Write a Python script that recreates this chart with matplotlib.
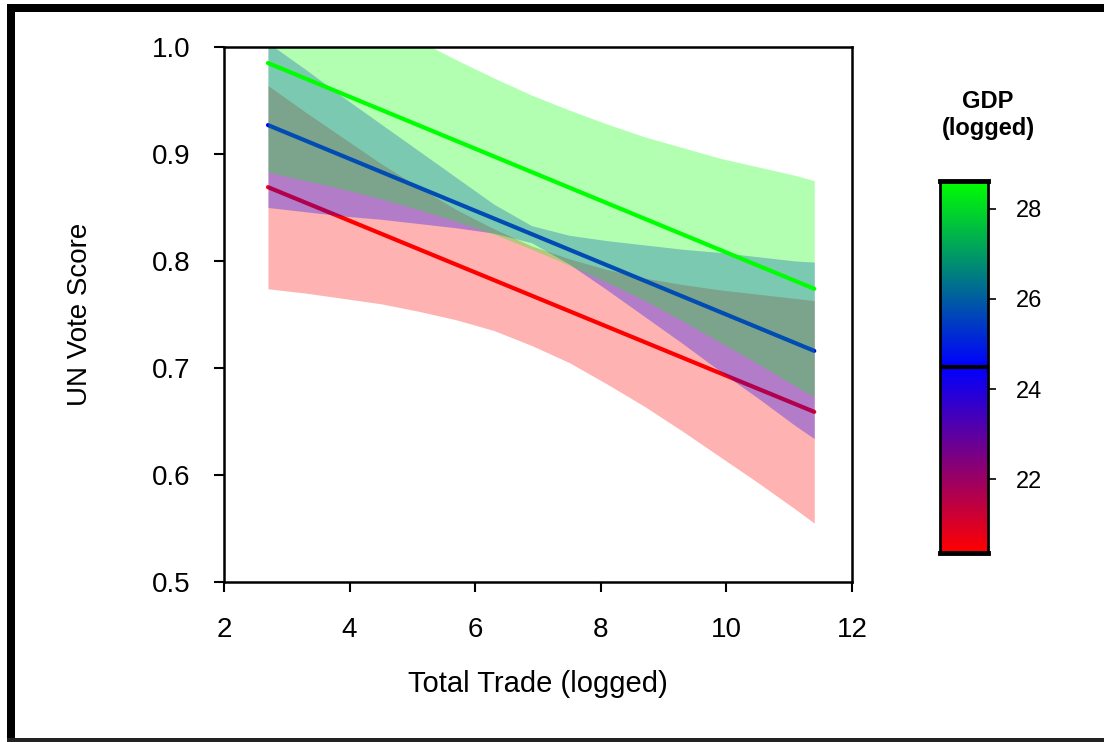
import numpy as np
import matplotlib
matplotlib.use("Agg")
import matplotlib.pyplot as plt
from matplotlib.colors import LinearSegmentedColormap
from matplotlib.patches import Rectangle

plt.rcParams['font.family'] = ['Liberation Sans', 'DejaVu Sans']

# predicted UN vote score vs total trade, at three GDP levels
trade_ends = [2.7, 11.4]
low_gdp_line = [0.869, 0.659]
mid_gdp_line = [0.927, 0.716]
high_gdp_line = [0.985, 0.774]

# confidence bands
trade_grid = [2.7, 3.3, 3.9, 4.5, 5.1, 5.7, 6.3, 6.9, 7.5, 8.1, 8.7, 9.3, 9.9, 10.5, 11.1, 11.4]
low_gdp_upper = [0.964, 0.939, 0.915, 0.891, 0.869, 0.848, 0.830, 0.814,
                 0.802, 0.792, 0.784, 0.778, 0.773, 0.769, 0.765, 0.763]
low_gdp_lower = [0.774, 0.770, 0.765, 0.760, 0.753, 0.745, 0.735, 0.721,
                 0.705, 0.685, 0.664, 0.641, 0.617, 0.593, 0.568, 0.555]
mid_gdp_upper = [1.004, 0.979, 0.953, 0.928, 0.903, 0.878, 0.853, 0.833,
                 0.824, 0.819, 0.815, 0.811, 0.808, 0.804, 0.800, 0.799]
mid_gdp_lower = [0.850, 0.846, 0.842, 0.839, 0.835, 0.831, 0.826, 0.817,
                 0.797, 0.773, 0.748, 0.723, 0.697, 0.672, 0.646, 0.634]
high_gdp_upper = [1.087, 1.066, 1.045, 1.025, 1.006, 0.988, 0.971, 0.955,
                  0.941, 0.928, 0.916, 0.906, 0.896, 0.888, 0.880, 0.875]
high_gdp_lower = [0.883, 0.875, 0.867, 0.858, 0.848, 0.837, 0.825, 0.811,
                  0.796, 0.780, 0.763, 0.744, 0.724, 0.704, 0.683, 0.673]

# colour scale for GDP (logged)
gdp_min, gdp_mid, gdp_max = 20.36, 24.49, 28.62
gdp_ticks = [22, 24, 26, 28]

fig = plt.figure(figsize=(11.04, 7.42), dpi=100)
ax = fig.add_axes([0.2029, 0.2156, 0.5688, 0.7211])

series = [
    (low_gdp_lower, low_gdp_upper, low_gdp_line, '#ff0000'),
    (mid_gdp_lower, mid_gdp_upper, mid_gdp_line, '#0000ff'),
    (high_gdp_lower, high_gdp_upper, high_gdp_line, '#00ff00'),
]
z = 1
for lo, up, line, col in series:
    ax.fill_between(trade_grid, lo, up, color=col, alpha=0.3, linewidth=0, zorder=z)
    ax.plot(trade_ends, line, color=col, lw=3, solid_capstyle='round', zorder=z + 1)
    z += 2

ax.set_xlim(2, 12)
ax.set_ylim(0.5, 1.0)
ax.set_xticks([2, 4, 6, 8, 10, 12])
ax.set_yticks([0.5, 0.6, 0.7, 0.8, 0.9, 1.0])
ax.set_yticklabels(['0.5', '0.6', '0.7', '0.8', '0.9', '1.0'])
ax.tick_params(direction='out', length=7, width=1.5, labelsize=20)
ax.tick_params(axis='x', pad=18)
ax.tick_params(axis='y', pad=17)
for s in ax.spines.values():
    s.set_linewidth(1.8)
    s.set_zorder(10)
ax.set_xlabel('Total Trade (logged)', fontsize=21)
ax.set_ylabel('UN Vote Score', fontsize=20)
ax.xaxis.set_label_coords(0.5, -0.164)
ax.yaxis.set_label_coords(-0.209, 0.5)

# colour bar
cax = fig.add_axes([0.8514, 0.2547, 0.0435, 0.5014])
f = (gdp_mid - gdp_min) / (gdp_max - gdp_min)
cmap = LinearSegmentedColormap.from_list('gdp', [(0, '#ff0000'), (f, '#0000ff'), (1, '#00ff00')])
grad = np.linspace(gdp_min, gdp_max, 400).reshape(-1, 1)
cax.imshow(grad, aspect='auto', cmap=cmap, origin='lower',
           extent=[0, 1, gdp_min, gdp_max])
cax.axhline(gdp_mid, color='black', lw=3)
cax.set_xlim(0, 1)
cax.set_ylim(gdp_min, gdp_max)
cax.set_xticks([])
cax.yaxis.tick_right()
cax.set_yticks(gdp_ticks)
cax.tick_params(axis='y', direction='out', length=6, width=1.2, labelsize=17, pad=14)
for name, s in cax.spines.items():
    s.set_linewidth(3.5 if name in ('top', 'bottom') else 2)
fig.text(0.895, 0.845, 'GDP\n(logged)', ha='center', va='center', fontsize=17,
         fontweight='bold', linespacing=1.25)

# outer frame
fig.add_artist(Rectangle((0.0063, 0.984), 0.9937, 0.011, transform=fig.transFigure,
                         color='black', lw=0))
fig.add_artist(Rectangle((0.0063, 0.0), 0.0073, 0.995, transform=fig.transFigure,
                         color='black', lw=0))
fig.add_artist(Rectangle((0.0063, 0.0), 0.9937, 0.005, transform=fig.transFigure,
                         color='#222222', lw=0))

fig.savefig('out.png', dpi=100, facecolor='white')
